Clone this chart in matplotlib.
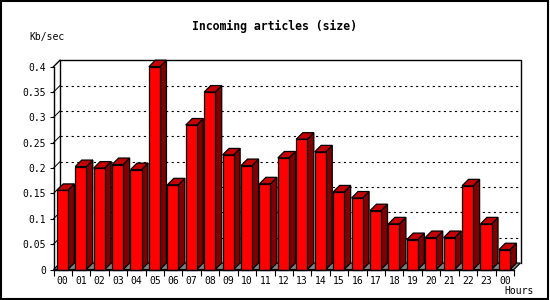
import numpy as np
import matplotlib
matplotlib.use("Agg")
import matplotlib.pyplot as plt
from matplotlib.patches import Polygon, Rectangle

# data
hours = ["00", "01", "02", "03", "04", "05", "06", "07", "08", "09", "10", "11",
         "12", "13", "14", "15", "16", "17", "18", "19", "20", "21", "22", "23", "00"]
values = [0.156, 0.203, 0.200, 0.207, 0.197, 0.400, 0.167, 0.285, 0.350, 0.226,
          0.205, 0.169, 0.220, 0.257, 0.232, 0.153, 0.141, 0.116, 0.090, 0.059,
          0.063, 0.063, 0.165, 0.090, 0.039]
y_ticks = [0, 0.05, 0.1, 0.15, 0.2, 0.25, 0.3, 0.35, 0.4]

W, H = 550, 300
fig = plt.figure(figsize=(W / 100, H / 100), dpi=100)
fig.patch.set_facecolor("white")

# front plane of the plot in pixels
left, right, bottom, top = 53.5, 514.0, 269.5, 66.7
ax = fig.add_axes([left / W, 1 - bottom / H, (right - left) / W, (bottom - top) / H])
n = len(values)
x0, x1 = -0.5, n - 0.5
ymax = y_ticks[-1]
ax.set_xlim(x0, x1)
ax.set_ylim(0, ymax)
ax.set_facecolor("none")

# 3d depth, converted to data units
depth = 6.5
ddx = depth * (x1 - x0) / (right - left)
ddy = depth * ymax / (bottom - top)

mono = "DejaVu Sans Mono"

# back wall + grid
ax.plot([x0 + ddx, x0 + ddx, x1 + ddx, x1 + ddx], [ddy, ymax + ddy, ymax + ddy, ddy],
        color="black", lw=1, clip_on=False, zorder=1)
ax.plot([x0, x0 + ddx], [ymax, ymax + ddy], color="black", lw=1, clip_on=False, zorder=1)
for v in y_ticks[1:-1]:
    ax.plot([x0 + ddx, x1 + ddx], [v + ddy, v + ddy], color="black", lw=0.8,
            dashes=(2, 3), clip_on=False, zorder=1)
    ax.plot([x0, x0 + ddx], [v, v + ddy], color="black", lw=0.7, clip_on=False, zorder=1)

# floor
floor = Polygon([(x0, 0), (x1, 0), (x1 + ddx, ddy), (x0 + ddx, ddy)], closed=True,
                facecolor="#808080", edgecolor="black", lw=0.8, clip_on=False, zorder=2)
ax.add_patch(floor)

# bars
bw = 0.6
z = 3
for i, v in enumerate(values):
    xl, xr = i - bw / 2 - 0.02, i + bw / 2 - 0.02
    faces = [
        ([(xr, 0), (xr + ddx, ddy), (xr + ddx, v + ddy), (xr, v)], "#800000"),
        ([(xl, v), (xr, v), (xr + ddx, v + ddy), (xl + ddx, v + ddy)], "#c40000"),
        ([(xl, 0), (xr, 0), (xr, v), (xl, v)], "#ff0000"),
    ]
    for pts, col in faces:
        ax.add_patch(Polygon(pts, closed=True, facecolor=col, edgecolor="black",
                             lw=0.9, clip_on=False, zorder=z))
    z += 1

# axes
for s in ["top", "right"]:
    ax.spines[s].set_visible(False)
for s in ["left", "bottom"]:
    ax.spines[s].set_linewidth(1)
    ax.spines[s].set_zorder(100)

ax.set_yticks(y_ticks)
ax.set_yticklabels(["%g" % t for t in y_ticks], fontfamily=mono, fontsize=7)
ax.tick_params(axis="y", direction="out", length=3, width=0.8, pad=2.5)

ax.set_xticks(range(n))
ax.set_xticklabels(hours, fontfamily=mono, fontsize=7)
ax.set_xticks(np.arange(x0, x1 + 0.01, 1), minor=True)
ax.tick_params(axis="x", which="major", length=0, pad=5)
ax.tick_params(axis="x", which="minor", length=4, width=0.8, direction="out")

fig.text(274 / W, 1 - 26 / H, "Incoming articles (size)", ha="center", va="center",
         fontfamily=mono, fontweight="bold", fontsize=8.3)
fig.text(29 / W, 1 - 37 / H, "Kb/sec", ha="left", va="center", fontfamily=mono, fontsize=7)
fig.text(504 / W, 1 - 291 / H, "Hours", ha="left", va="center", fontfamily=mono, fontsize=7)

# outer frame
fig.patches.append(Rectangle((0.002, 0.003), 0.994, 0.993, transform=fig.transFigure,
                             fill=False, edgecolor="black", lw=1.5))

fig.savefig("out.png", dpi=100)
